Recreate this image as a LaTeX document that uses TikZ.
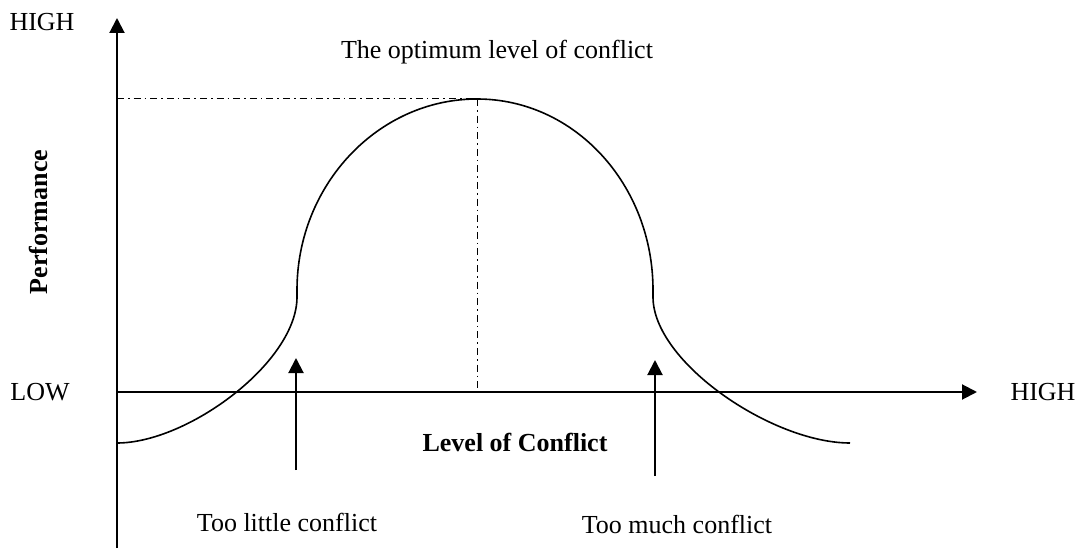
\documentclass[tikz,border=0pt]{standalone}
\usepackage{fontspec}
\setmainfont{Liberation Serif}
\usetikzlibrary{arrows.meta}
\begin{document}
\begin{tikzpicture}[x=0.5pt, y=-0.5pt, font=\fontsize{13}{15}\selectfont,
  axis/.style={line width=1pt, -{Triangle[length=7.5pt, width=7.5pt]}},
  guide/.style={line width=0.5pt, dash pattern=on 3.5pt off 2pt on 0.8pt off 2pt},
  curve/.style={line width=0.8pt}]

  \useasboundingbox (0,0) rectangle (1088,556);

  % -- Axes --
  \coordinate (origin) at (117,392);
  \coordinate (ybase) at (117,548);
  \coordinate (ytip) at (117,18);
  \coordinate (xtip) at (977,392);
  \draw[axis] (ybase) -- (ytip);
  \draw[axis] (origin) -- (xtip);
  \node (yhigh) at (42,22) {HIGH};
  \node (xlow) at (40,392) {LOW};
  \node (xhigh) at (1043,392) {HIGH};

  % -- Optimum guides --
  \coordinate (peak) at (477,99);
  \coordinate (peakx) at (477,392);
  \coordinate (peaky) at (117,99);
  \draw[guide] (peaky) -- (peak);
  \draw[guide] (peak) -- (peakx);
  \node (optimum) at (497,52) {The optimum level of conflict};

  % -- Performance curve --
  \draw[curve] (117,443) .. controls (188,443) and (297,362) .. (297,297)
    -- (297,290) .. controls (297,185) and (378,99) .. (peak)
    .. controls (575,99) and (653,185) .. (653,290)
    -- (653,297) .. controls (653,362) and (772,443) .. (850,443);

  % Axis titles
  \node[rotate=90, font=\fontsize{13}{15}\selectfont\bfseries] (perf) at (38,222) {Performance};
  \node[font=\fontsize{13}{15}\selectfont\bfseries] (level) at (515,442) {Level of Conflict};

  % -- Region pointers --
  \node (little) at (287,522) {Too little conflict};
  \node (much) at (677,524) {Too much conflict};
  \coordinate (littlefoot) at (296,470);
  \coordinate (littletip) at (296,358);
  \coordinate (muchfoot) at (655,476);
  \coordinate (muchtip) at (655,360);
  \draw[axis] (littlefoot) -- (littletip);
  \draw[axis] (muchfoot) -- (muchtip);

\end{tikzpicture}
\end{document}
